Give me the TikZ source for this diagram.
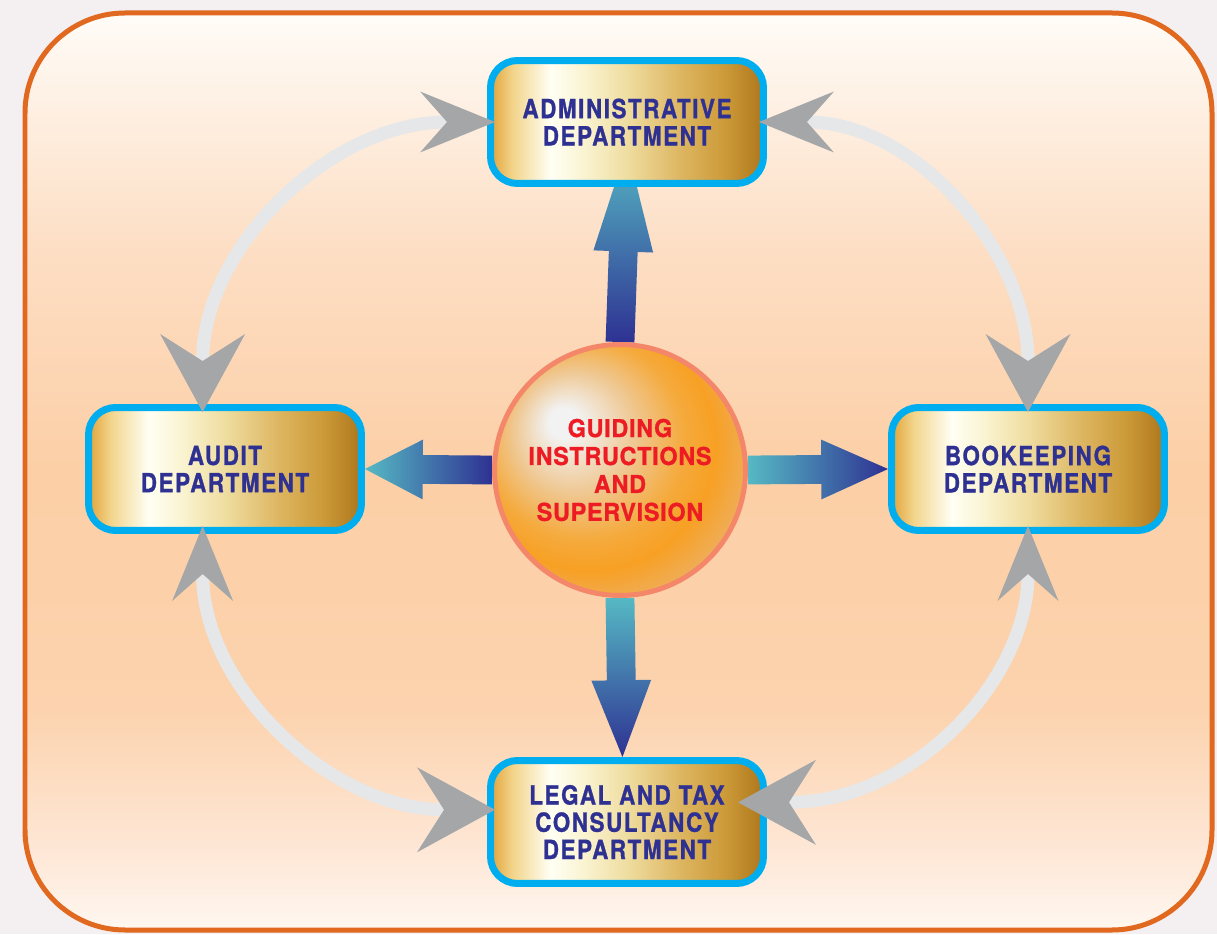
\documentclass[tikz,border=0pt]{standalone}
\usepackage{fontspec}
\usetikzlibrary{arrows.meta,calc}
\newfontfamily\deptfont{TeX Gyre Heros}[FakeStretch=0.85,LetterSpace=6,FakeBold=1]
\newfontfamily\hubfont{TeX Gyre Heros}[FakeStretch=0.95,LetterSpace=3,FakeBold=1]

\definecolor{pagebg}{HTML}{F4F0F2}
\definecolor{framerim}{HTML}{E0681F}
\definecolor{peach0}{HTML}{FFF7F0}
\definecolor{peach1}{HTML}{FEE8D8}
\definecolor{peach2}{HTML}{FCD3AE}
\definecolor{peach3}{HTML}{FCCFA6}
\definecolor{peach4}{HTML}{FDDEC4}
\definecolor{peach5}{HTML}{FEF0E3}
\definecolor{peach6}{HTML}{FFFCF8}
\definecolor{gold0}{HTML}{E2A33A}
\definecolor{gold1}{HTML}{F2D48A}
\definecolor{gold2}{HTML}{FFFFF4}
\definecolor{gold3}{HTML}{FAF4D2}
\definecolor{gold4}{HTML}{EFDDA0}
\definecolor{gold5}{HTML}{DDB560}
\definecolor{gold6}{HTML}{CC9A38}
\definecolor{gold7}{HTML}{AE761C}
\definecolor{orb0}{HTML}{F2F2F2}
\definecolor{orb1}{HTML}{EFC893}
\definecolor{orb2}{HTML}{F5AA3C}
\definecolor{orb3}{HTML}{F7A024}
\definecolor{orb4}{HTML}{EFAE5A}
\definecolor{deptblue}{HTML}{00AEEF}
\definecolor{deptnavy}{HTML}{2E3192}
\definecolor{hubrim}{HTML}{F4876A}
\definecolor{hubred}{HTML}{ED1C24}
\definecolor{flowteal}{HTML}{56B9C4}
\definecolor{flownavy}{HTML}{2E3192}
\definecolor{ringgray}{HTML}{E6E7E8}
\definecolor{tipgray}{HTML}{A4A6A8}

\pgfdeclarehorizontalshading{goldbar}{100bp}{color(0bp)=(gold0); color(25bp)=(gold0);
  color(29bp)=(gold1); color(36bp)=(gold2); color(42bp)=(gold3); color(50bp)=(gold4);
  color(60bp)=(gold5); color(68bp)=(gold6); color(75bp)=(gold7); color(100bp)=(gold7)}
\pgfdeclareverticalshading{peachbg}{100bp}{color(0bp)=(peach0); color(25bp)=(peach0);
  color(29bp)=(peach1); color(37bp)=(peach2); color(50bp)=(peach3); color(62bp)=(peach4);
  color(70bp)=(peach5); color(75bp)=(peach6); color(100bp)=(peach6)}
\pgfdeclareradialshading{orb}{\pgfpoint{-12bp}{10bp}}{color(0bp)=(orb0); color(3bp)=(orb0);
  color(12bp)=(orb1); color(20bp)=(orb2); color(25bp)=(orb3); color(31bp)=(orb4); color(50bp)=(orb4)}

\pgfdeclarelayer{back}
\pgfdeclarelayer{mid}
\pgfsetlayers{back,mid,main}

% thick shaded arrow: options, from, to, head length
\newcommand{\blockarrow}[4]{%
  \path[#1] let \p1=(#2), \p2=(#3), \n1={atan2(\y2-\y1,\x2-\x1)} in
    ($(\p1)+({\n1+90}:8.2pt)$) -- ($(\p2)+({\n1+180}:#4)+({\n1+90}:8.2pt)$)
    -- ($(\p2)+({\n1+180}:#4)+({\n1+90}:17pt)$) -- (\p2)
    -- ($(\p2)+({\n1+180}:#4)+({\n1-90}:17pt)$) -- ($(\p2)+({\n1+180}:#4)+({\n1-90}:8.2pt)$)
    -- ($(\p1)+({\n1-90}:8.2pt)$) -- cycle;
}

\begin{document}
\begin{tikzpicture}[x=0.02cm,y=0.02cm,
  dept node/.style={rounded corners=0.54cm,draw=deptblue,line width=0.14cm,shade,shading=goldbar,
    minimum width=5.46cm,minimum height=2.46cm,align=center,text=deptnavy,
    font=\deptfont\bfseries\fontsize{15}{15.5}\selectfont},
  hub node/.style={circle,draw=hubrim,line width=0.1cm,shade,shading=orb,minimum size=5.02cm,
    inner sep=0pt,align=center,text=hubred,font=\hubfont\bfseries\fontsize{14}{15.9}\selectfont},
  ring/.style={draw=ringgray,line width=0.26cm,shorten >=-0.16cm,shorten <=-0.16cm},
  narrowhead/.tip={Stealth[length=1.5cm,width=1.22cm,inset=0.54cm,line width=0pt,color=tipgray]},
  widehead/.tip={Stealth[length=1.56cm,width=1.7cm,inset=0.54cm,line width=0pt,color=tipgray]}]

    \useasboundingbox (0,0) rectangle (1217,934);

    \begin{pgfonlayer}{back}
        \fill[pagebg] (0,0) rectangle (1217,934);
        \draw[draw=framerim,line width=0.1cm,shade,shading=peachbg,rounded corners=2cm] (25,4) rectangle (1212,921);
    \end{pgfonlayer}

    \node[hub node] (hub) at (620,464) {GUIDING\\INSTRUCTIONS\\AND\\SUPERVISION};

    \node[dept node] (admin) at (627,812) {ADMINISTRATIVE\\DEPARTMENT};
    \node[dept node] (audit) at (225,465) {AUDIT\\DEPARTMENT};
    \node[dept node] (book) at (1028,465) {BOOKEEPING\\DEPARTMENT};
    \node[dept node] (legal) at (627,112) {LEGAL AND TAX\\CONSULTANCY\\DEPARTMENT};

    \coordinate (admintip) at ($(admin.south)+(0,40)$);

    \begin{pgfonlayer}{mid}
        \blockarrow{top color=flowteal,bottom color=flownavy}{hub.north}{admintip}{59.5pt}
        \blockarrow{top color=flowteal,bottom color=flownavy}{hub.south}{legal.94}{43.7pt}
        \blockarrow{left color=flowteal,right color=flownavy}{hub.west}{audit.east}{32.9pt}
        \blockarrow{left color=flowteal,right color=flownavy}{hub.east}{book.west}{38pt}
    \end{pgfonlayer}

    \draw[ring,widehead-narrowhead] (audit.109) to[out=90,in=180] (admin.west);
    \draw[ring,narrowhead-widehead] (admin.east) to[out=0,in=90] (book.north);
    \draw[ring,narrowhead-widehead] (audit.251) to[out=270,in=180] (legal.175);
    \draw[ring,narrowhead-widehead,shorten >=-0.58cm] (book.south) to[out=270,in=0] (legal.8);

\end{tikzpicture}
\end{document}
